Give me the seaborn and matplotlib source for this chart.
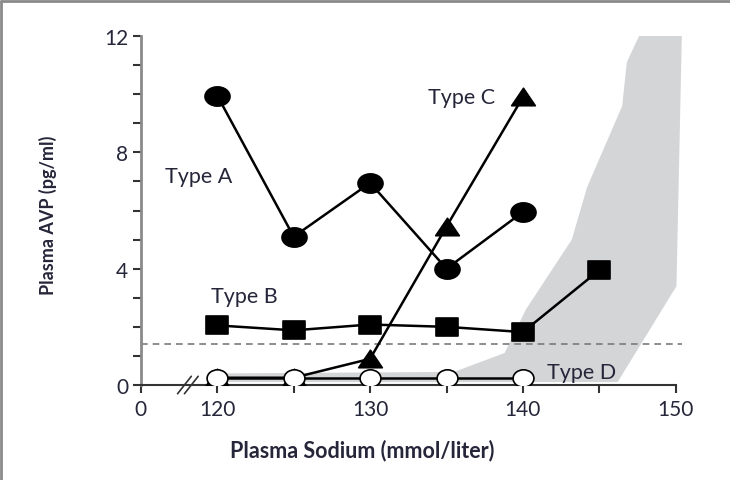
import numpy as np
import pandas as pd
import matplotlib
matplotlib.use("Agg")
import matplotlib.pyplot as plt
from matplotlib.path import Path
import seaborn as sns

# data (x = plasma sodium, y = plasma AVP)
sodium = [120, 125, 130, 135, 140]
type_a = [9.95, 5.1, 6.95, 4.0, 5.95]
sodium_b = [120, 125, 130, 135, 140, 145]
type_b = [2.05, 1.88, 2.08, 2.0, 1.82, 3.95]
type_c = [0.25, 0.25, 0.9, 5.45, 9.9]
type_d = [0.25, 0.25, 0.25, 0.25, 0.25]
threshold = 1.4

# normal range band (outline)
band_x = [120.6, 120.6, 135.5, 138.8, 140.2, 143.2, 144.2, 146.5, 146.8, 147.6,
          150.4, 150.05, 146.2]
band_y = [0.1, 0.4, 0.45, 1.1, 2.6, 5.0, 6.8, 9.6, 11.1, 12.0,
          12.0, 3.4, 0.1]

xticks = [115, 120, 130, 140, 150]
xticklabels = ["0", "120", "130", "140", "150"]
yticks = [0, 4, 8, 12]

sns.set_style("ticks")
plt.rcParams["font.family"] = ["Lato", "DejaVu Sans"]
txt = "#26263a"


def stretched(path, sx=1.3):
    # the original picture is slightly squashed, so markers look wide
    return Path(path.vertices * [sx, 1.0], path.codes)


circle_m = stretched(Path.unit_circle())
square_m = stretched(Path([(-1, -1), (1, -1), (1, 1), (-1, 1), (-1, -1)],
                          [1, 2, 2, 2, 79]))
tri_m = stretched(Path([(-1, -0.8), (1, -0.8), (0, 0.9), (-1, -0.8)],
                       [1, 2, 2, 79]), 1.15)
open_m = stretched(Path.unit_circle(), 1.2)

fig = plt.figure(figsize=(7.3, 4.81), dpi=100)
ax = fig.add_axes([0.193, 0.1975, 0.741, 0.7255])

ax.fill(band_x, band_y, color="#d4d5d7", lw=0, zorder=1)
ax.axhline(threshold, color="#7a7a7a", ls=(0, (4, 3)), lw=1.2, zorder=2)

df_a = pd.DataFrame({"x": sodium, "y": type_a})
df_b = pd.DataFrame({"x": sodium_b, "y": type_b})
df_c = pd.DataFrame({"x": sodium, "y": type_c})
df_d = pd.DataFrame({"x": sodium, "y": type_d})

kw = dict(color="black", lw=1.8, markeredgecolor="black", markeredgewidth=1.2)
sns.lineplot(data=df_c, x="x", y="y", ax=ax, marker=tri_m, markersize=17, zorder=3, **kw)
sns.lineplot(data=df_a, x="x", y="y", ax=ax, marker=circle_m, markersize=18, zorder=4, **kw)
sns.lineplot(data=df_b, x="x", y="y", ax=ax, marker=square_m, markersize=16, zorder=4, **kw)
sns.lineplot(data=df_d, x="x", y="y", ax=ax, marker=open_m, markersize=15,
             markerfacecolor="white", zorder=5, **kw)

ax.set_xlim(115, 150.4)
ax.set_ylim(0, 12)
ax.set_xticks(xticks)
ax.set_xticklabels(xticklabels)
ax.set_xticks([125, 135, 145], minor=True)
ax.set_yticks(yticks)
ax.set_yticks(np.arange(0, 13, 1), minor=True)
ax.tick_params(which="both", direction="out", length=6, width=1.5,
               colors="#333333", labelsize=15, labelcolor=txt, pad=3)
ax.tick_params(axis="x", pad=4)

for s in ["top", "right"]:
    ax.spines[s].set_visible(False)
ax.spines["left"].set_color("#8a8a8a")
ax.spines["left"].set_linewidth(2.0)
ax.spines["bottom"].set_color("#333333")
ax.spines["bottom"].set_linewidth(1.5)
ax.spines["left"].set_bounds(0, 12)
ax.spines["bottom"].set_bounds(115, 150)

# axis break marks
for dx in (0, 0.45):
    ax.plot([117.4 + dx, 118.3 + dx], [-0.3, 0.3], color="#333333", lw=1.2,
            clip_on=False, zorder=6)

ax.set_xlabel("Plasma Sodium (mmol/liter)", fontsize=15.5, fontweight="bold", color=txt)
ax.set_ylabel("Plasma AVP (pg/ml)", fontsize=13, fontweight="bold", color=txt)
ax.xaxis.set_label_coords(0.41, -0.155)
ax.yaxis.set_label_coords(-0.155, 0.49)

ax.text(116.6, 7.2, "Type A", fontsize=15.5, color=txt, va="center")
ax.text(119.6, 3.05, "Type B", fontsize=15.5, color=txt, va="center")
ax.text(133.8, 9.9, "Type C", fontsize=15.5, color=txt, va="center")
ax.text(141.6, 0.45, "Type D", fontsize=15.5, color=txt, va="center")

# image frame (top and left edge)
fig.add_artist(plt.Line2D([0.001, 1], [0.996, 0.996], color="#8a8a8a", lw=2,
                          transform=fig.transFigure))
fig.add_artist(plt.Line2D([0.002, 0.002], [0, 0.996], color="#8a8a8a", lw=2,
                          transform=fig.transFigure))

fig.savefig("out.png", dpi=100)
